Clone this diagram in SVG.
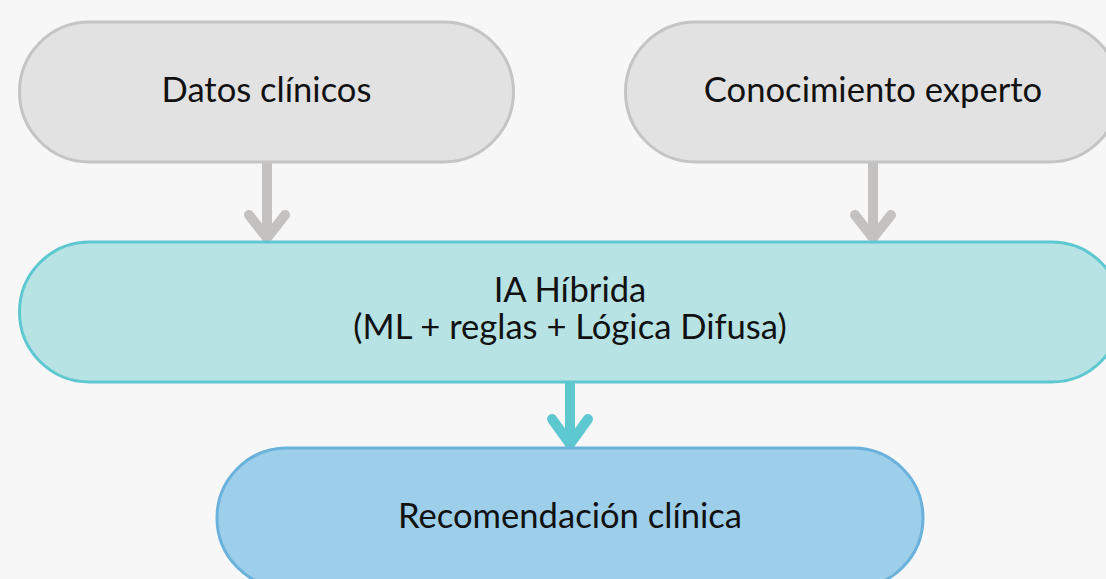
<svg xmlns="http://www.w3.org/2000/svg" width="1106" height="579" viewBox="0 0 1106 579">
<style>
text{font-family:Lato,"Liberation Sans",sans-serif;font-size:34.6px;fill:#111;text-anchor:middle}
.gray{fill:#e2e2e2;stroke:#c4c4c4;stroke-width:3}
.teal{fill:#b8e3e4;stroke:#5ec8d0;stroke-width:3}
.blue{fill:#9dcfea;stroke:#6ab2dc;stroke-width:3}
.cg{stroke:#c4c2c0;stroke-width:10;fill:none;stroke-linecap:round;stroke-linejoin:round}
.ct{stroke:#5ec8d0;stroke-width:10;fill:none;stroke-linecap:round;stroke-linejoin:round}
</style>
<rect width="1106" height="579" fill="#f7f7f7"/>
<g id="connectors">
<path class="cg" d="M267 162V236M249 215L267 238L285 215"/>
<path class="cg" d="M873 162V236M855 215L873 238L891 215"/>
<path class="ct" d="M570 383V442M552 419L570 444L588 419"/>
</g>
<g id="n1"><rect class="gray" x="19.5" y="22" width="494" height="140" rx="70"/><text x="266.5" y="102">Datos clínicos</text></g>
<g id="n2"><rect class="gray" x="625.5" y="22" width="494" height="140" rx="70"/><text x="873" y="102">Conocimiento experto</text></g>
<g id="n3"><rect class="teal" x="19.5" y="242" width="1102" height="140" rx="70"/><text x="570" y="302">IA Híbrida</text><text x="570" y="339">(ML + reglas + Lógica Difusa)</text></g>
<g id="n4"><rect class="blue" x="217" y="448" width="706" height="140" rx="70"/><text x="570" y="528">Recomendación clínica</text></g>
</svg>
